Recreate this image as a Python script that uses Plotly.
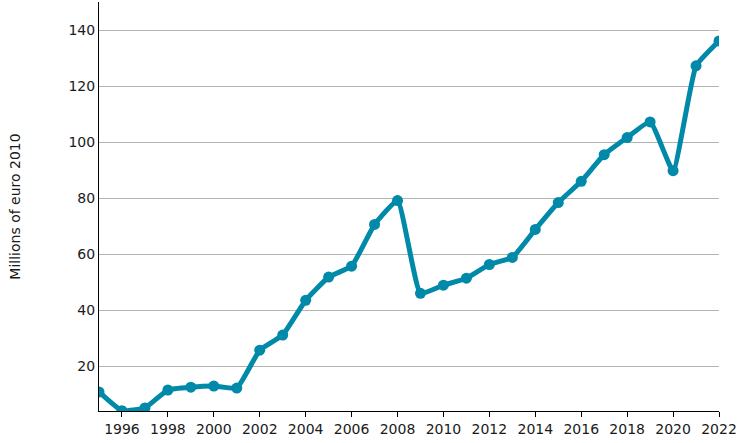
import plotly.graph_objects as go

years = list(range(1995, 2023))
values = [10.8, 4.1, 5.1, 11.5, 12.5, 12.9, 12.2, 25.7, 31.1, 43.5, 51.8, 55.7, 70.6, 79.1,
          46.0, 48.9, 51.4, 56.3, 58.8, 68.8, 78.4, 86.0, 95.5, 101.6, 107.2, 89.8, 127.2, 136.1]
y_title = "Millions of euro 2010"
x_ticks = list(range(1996, 2023, 2))
y_ticks = [20, 40, 60, 80, 100, 120, 140]

color = "#0089A8"
fig = go.Figure(go.Scatter(
    x=years, y=values, mode="lines+markers",
    line=dict(color=color, width=5, shape="spline", smoothing=0.4),
    marker=dict(color=color, size=11),
    hoverinfo="x+y",
))
font = dict(family="DejaVu Sans", size=14, color="#1a1a1a")
fig.update_layout(
    width=745, height=443,
    margin=dict(l=99, r=26, t=2, b=32),
    paper_bgcolor="white", plot_bgcolor="white",
    showlegend=False,
    font=font,
    xaxis=dict(range=[1995, 2022], tickvals=x_ticks, ticktext=[str(t) for t in x_ticks],
               showgrid=False, showline=True, linecolor="black", linewidth=1,
               ticks="outside", ticklen=5, tickcolor="black", zeroline=False, tickfont=font),
    yaxis=dict(range=[4, 150], tickvals=y_ticks, showgrid=True, gridcolor="#b3b3b3", gridwidth=1,
               showline=True, linecolor="black", linewidth=1, ticks="", zeroline=False,
               tickfont=font, title=dict(text=y_title, font=font, standoff=44)),
)
fig.write_html("out.html")
